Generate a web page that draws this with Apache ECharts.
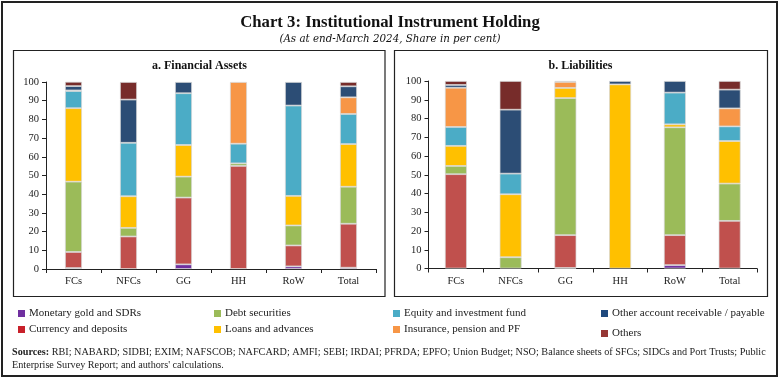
<!DOCTYPE html>
<html><head><meta charset="utf-8">
<script src="https://cdn.jsdelivr.net/npm/echarts@6/dist/echarts.min.js"></script>
<style>html,body{margin:0;padding:0;background:#fff}#c{width:780px;height:379px}</style>
</head><body><div id="c"></div>
<script>
const categories = ['FCs', 'NFCs', 'GG', 'HH', 'RoW', 'Total'];
const seriesNames = ['Monetary gold and SDRs', 'Currency and deposits', 'Debt securities', 'Loans and advances',
  'Equity and investment fund', 'Insurance, pension and PF', 'Other account receivable / payable', 'Others'];
// Financial assets (share in per cent)
const assetsGold      = [0.5, 0, 2.5, 0, 1.4, 0.7];
const assetsCurrency  = [8.6, 17.4, 35.7, 55.1, 11.2, 23.5];
const assetsDebt      = [37.6, 4.6, 11.2, 1.4, 10.7, 19.8];
const assetsLoans     = [39.3, 16.9, 16.9, 0, 15.8, 22.8];
const assetsEquity    = [9.2, 28.6, 27.7, 10.5, 48.3, 16.1];
const assetsInsurance = [0.3, 0, 0, 33.0, 0, 8.9];
const assetsOtherAcc  = [2.3, 23.1, 6.0, 0, 12.6, 5.9];
const assetsOthers    = [2.3, 9.4, 0, 0, 0, 2.3];
// Liabilities (share in per cent)
const liabGold      = [0, 0, 0.3, 0, 1.8, 0];
const liabCurrency  = [50.3, 0, 17.5, 0, 16.0, 25.4];
const liabDebt      = [4.4, 6.0, 73.1, 0, 57.5, 19.9];
const liabLoans     = [10.7, 33.6, 5.4, 98.2, 1.6, 22.7];
const liabEquity    = [10.1, 11.0, 0, 0, 16.9, 7.8];
const liabInsurance = [20.9, 0, 3.2, 0, 0, 9.6];
const liabOtherAcc  = [1.5, 34.1, 0, 1.8, 6.2, 10.0];
const liabOthers    = [2.1, 15.3, 0.5, 0, 0, 4.6];
const yTicks = [0, 10, 20, 30, 40, 50, 60, 70, 80, 90, 100];

const barColors = ['#7030A0', '#C0504D', '#9BBB59', '#FFC000', '#4BACC6', '#F79646', '#2C4D75', '#772C2A'];
const legendColors = ['#7030A0', '#C8202A', '#9BBB59', '#FFC000', '#4BACC6', '#F79646', '#1F497D', '#953735'];
const assets = [assetsGold, assetsCurrency, assetsDebt, assetsLoans, assetsEquity, assetsInsurance, assetsOtherAcc, assetsOthers];
const liabs = [liabGold, liabCurrency, liabDebt, liabLoans, liabEquity, liabInsurance, liabOtherAcc, liabOthers];

const FONT = '"Liberation Serif", "DejaVu Serif", serif';
const chart = echarts.init(document.getElementById('c'), null, {renderer: 'canvas'});

function mkSeries(arr, idx, stack, bw) {
  return arr.map((vals, i) => ({
    name: seriesNames[i], type: 'bar', stack: stack, xAxisIndex: idx, yAxisIndex: idx,
    barWidth: bw, data: vals.map(v => v === 0 ? '-' : v),
    itemStyle: {color: barColors[i], borderColor: 'rgba(215,215,215,0.9)', borderWidth: 0.8},
    emphasis: {disabled: true}
  }));
}
const axisLbl = {fontFamily: FONT, fontSize: 10.5, color: '#222'};
function yAx(idx) {
  return {type: 'value', gridIndex: idx, min: 0, max: 100, interval: 10,
    axisLine: {show: true, lineStyle: {color: '#222', width: 1}},
    axisTick: {show: true, length: 4, lineStyle: {color: '#222'}},
    splitLine: {show: false}, axisLabel: Object.assign({margin: 7, formatter: v => yTicks.includes(v) ? String(v) : ''}, axisLbl)};
}
function xAx(idx) {
  return {type: 'category', gridIndex: idx, data: categories,
    axisLine: {show: true, lineStyle: {color: '#222', width: 1}},
    axisTick: {show: true, length: 4, lineStyle: {color: '#222'}},
    axisLabel: Object.assign({margin: 7}, axisLbl)};
}
const legendCols = [[0, 1], [2, 3], [4, 5], [6, 7]];
const legendLefts = [13, 209, 388, 596];
const legendGaps = [5, 5, 5, 9];
const legends = legendCols.map((c, k) => ({
  orient: 'vertical', left: legendLefts[k], top: 303, itemGap: legendGaps[k], itemWidth: 7, itemHeight: 7,
  icon: 'rect', selectedMode: false,
  textStyle: {fontFamily: FONT, fontSize: 11, color: '#222', padding: [0, 0, 0, -1]},
  data: c.map(i => ({name: seriesNames[i], itemStyle: {color: legendColors[i], borderWidth: 0}}))
}));

const option = {
  animation: false,
  backgroundColor: '#fff',
  title: [
    {text: 'Chart 3: Institutional Instrument Holding', left: 'center', top: 9,
      textStyle: {fontFamily: FONT, fontSize: 16.7, fontWeight: 'bold', color: '#111'}},
    {text: '(As at end-March 2024, Share in per cent)', left: 'center', top: 29,
      textStyle: {fontFamily: '"DejaVu Serif", serif', fontSize: 10.3, fontStyle: 'italic', fontWeight: 'normal', color: '#111'}},
    {text: 'a. Financial Assets', left: 194.5, textAlign: 'center', top: 55,
      textStyle: {fontFamily: FONT, fontSize: 12, fontWeight: 'bold', color: '#111'}},
    {text: 'b. Liabilities', left: 575.5, textAlign: 'center', top: 55,
      textStyle: {fontFamily: FONT, fontSize: 12, fontWeight: 'bold', color: '#111'}}
  ],
  legend: legends,
  grid: [
    {left: 46, right: 780 - 376, top: 82, bottom: 379 - 269},
    {left: 428.5, right: 780 - 757, top: 81, bottom: 379 - 268.5}
  ],
  xAxis: [xAx(0), xAx(1)],
  yAxis: [yAx(0), yAx(1)],
  series: mkSeries(assets, 0, 'a', 17).concat(mkSeries(liabs, 1, 'b', 22)),
  graphic: [
    {type: 'rect', shape: {x: 2, y: 2, width: 775, height: 374}, style: {fill: 'none', stroke: '#222', lineWidth: 2}, silent: true},
    {type: 'rect', shape: {x: 13.5, y: 50.5, width: 371.5, height: 246}, style: {fill: 'none', stroke: '#222', lineWidth: 1.2}, silent: true},
    {type: 'rect', shape: {x: 394.5, y: 50.5, width: 373, height: 246}, style: {fill: 'none', stroke: '#222', lineWidth: 1.2}, silent: true},
    {type: 'text', left: 12, top: 346, silent: true,
      style: {text: '{b|Sources:} RBI; NABARD; SIDBI; EXIM; NAFSCOB; NAFCARD; AMFI; SEBI; IRDAI; PFRDA; EPFO; Union Budget; NSO; Balance sheets of SFCs; SIDCs and Port Trusts; Public\nEnterprise Survey Report; and authors\' calculations.',
        font: '10.2px ' + FONT, fill: '#222', lineHeight: 13,
        rich: {b: {font: 'bold 10.2px ' + FONT, fill: '#222'}}}}
  ]
};
chart.setOption(option);
</script></body></html>
